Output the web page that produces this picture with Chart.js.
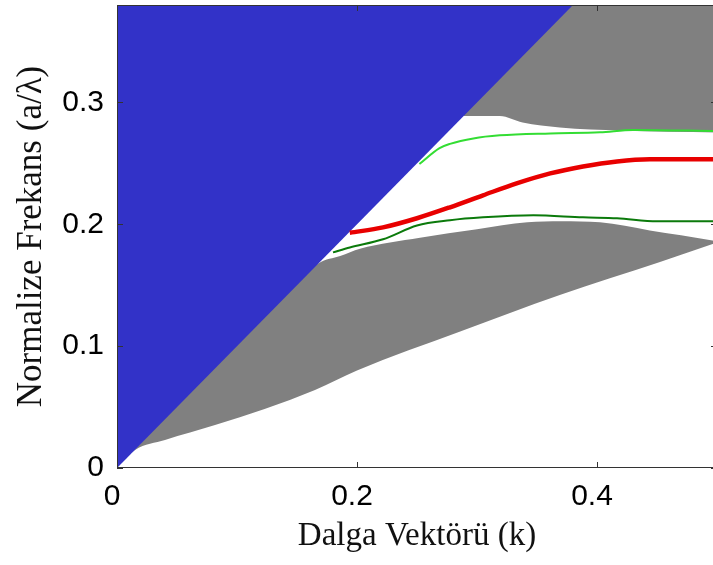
<!DOCTYPE html>
<html>
<head>
<meta charset="utf-8">
<script src="https://cdn.jsdelivr.net/npm/chart.js@4.4.1/dist/chart.umd.min.js"></script>
<style>
  html, body { margin: 0; padding: 0; background: #ffffff; overflow: hidden; }
  #wrap { width: 720px; height: 565px; }
</style>
</head>
<body>
<div id="wrap"><canvas id="c" width="720" height="565"></canvas></div>
<script>
// ---- data ----
const xTickValues = [0, 0.2, 0.4];
const yTickValues = [0, 0.1, 0.2, 0.3];

const lightLineK = [0, 0.38];
const lightLineF = [0, 0.38];

const upperBandK = [0.289, 0.319, 0.338, 0.369, 0.42, 0.5];
const upperBandF = [0.289, 0.289, 0.2836, 0.2795, 0.277, 0.2754];

const lowerBandTopK = [0, 0.168, 0.186, 0.2025, 0.2525, 0.30, 0.342, 0.37, 0.4025, 0.444, 0.47, 0.5];
const lowerBandTopF = [0, 0.168, 0.174, 0.180, 0.189, 0.196, 0.2016, 0.2025, 0.2016, 0.195, 0.191, 0.186];

const lowerBandBottomK = [0, 0.015, 0.04, 0.0817, 0.123, 0.165, 0.2, 0.286, 0.369, 0.4525, 0.5];
const lowerBandBottomF = [0, 0.0148, 0.023, 0.0352, 0.0485, 0.064, 0.080, 0.112, 0.142, 0.169, 0.185];

const lightGreenK = [0.252, 0.2688, 0.2775, 0.297, 0.319, 0.361, 0.4025, 0.43, 0.5];
const lightGreenF = [0.2495, 0.2625, 0.266, 0.2705, 0.273, 0.2746, 0.2755, 0.2775, 0.2765];

const redK = [0.194, 0.2217, 0.25, 0.2775, 0.305, 0.333, 0.361, 0.3883, 0.4167, 0.444, 0.5];
const redF = [0.193, 0.1975, 0.205, 0.214, 0.2238, 0.2336, 0.2418, 0.2475, 0.2516, 0.2533, 0.2533];

const darkGreenK = [0.18, 0.194, 0.2217, 0.25, 0.2775, 0.305, 0.347, 0.3883, 0.4167, 0.45, 0.5];
const darkGreenF = [0.177, 0.181, 0.1877, 0.199, 0.2033, 0.2057, 0.2074, 0.2057, 0.205, 0.2025, 0.2025];

const pts = (ks, fs) => ks.map((k, i) => ({ x: k, y: fs[i] }));

const BLUE = '#3232c8';
const GRAY = '#808080';

const frameTicks = {
  id: 'frameTicks',
  afterDraw(chart) {
    const { ctx, chartArea: a, scales: { x, y } } = chart;
    ctx.save();
    ctx.strokeStyle = '#333333';
    ctx.lineWidth = 1;
    ctx.strokeRect(a.left + 0.5, a.top + 0.5, a.right - a.left - 1, a.bottom - a.top - 1);
    const L = 6;
    ctx.beginPath();
    xTickValues.forEach(v => {
      const px = Math.round(x.getPixelForValue(v)) + 0.5;
      ctx.moveTo(px, a.bottom); ctx.lineTo(px, a.bottom - L);
      ctx.moveTo(px, a.top); ctx.lineTo(px, a.top + L);
    });
    yTickValues.forEach(v => {
      const py = Math.round(y.getPixelForValue(v)) + 0.5;
      ctx.moveTo(a.left, py); ctx.lineTo(a.left + L, py);
      ctx.moveTo(a.right, py); ctx.lineTo(a.right - L, py);
    });
    ctx.stroke();
    ctx.restore();
  }
};

const smooth = { cubicInterpolationMode: 'monotone', pointRadius: 0 };

new Chart(document.getElementById('c'), {
  type: 'line',
  data: {
    datasets: [
      { label: 'red', data: pts(redK, redF), borderColor: '#e80000', borderWidth: 4.5,
        fill: false, order: 0, ...smooth },
      { label: 'darkgreen', data: pts(darkGreenK, darkGreenF), borderColor: '#0b7a0b', borderWidth: 2,
        fill: false, order: 1, ...smooth },
      { label: 'lightgreen', data: pts(lightGreenK, lightGreenF), borderColor: '#33dd33', borderWidth: 2,
        fill: false, order: 2, ...smooth },
      { label: 'lightcone', data: pts(lightLineK, lightLineF), borderColor: BLUE, borderWidth: 0,
        backgroundColor: BLUE, pointRadius: 0, fill: 'end', tension: 0, order: 3 },
      { label: 'upperband', data: pts(upperBandK, upperBandF), borderColor: GRAY, borderWidth: 0,
        backgroundColor: GRAY, fill: 'end', order: 4, ...smooth },
      { label: 'lowerTop', data: pts(lowerBandTopK, lowerBandTopF), borderColor: GRAY, borderWidth: 0,
        backgroundColor: GRAY, fill: '+1', order: 5, ...smooth },
      { label: 'lowerBottom', data: pts(lowerBandBottomK, lowerBandBottomF), borderColor: GRAY, borderWidth: 0,
        backgroundColor: GRAY, fill: false, order: 6, ...smooth }
    ]
  },
  options: {
    responsive: false,
    animation: false,
    devicePixelRatio: 1,
    layout: { padding: { top: 5, right: 3, left: 0, bottom: 0 } },
    plugins: { legend: { display: false }, tooltip: { enabled: false } },
    scales: {
      x: {
        type: 'linear', min: 0, max: 0.5,
        grid: { display: false, drawTicks: false },
        border: { display: false },
        afterBuildTicks: s => { s.ticks = xTickValues.map(v => ({ value: v })); },
        afterFit: s => { s.height = 97; s.paddingLeft = 0; s.paddingRight = 0; },
        ticks: {
          padding: 11, color: '#000', labelOffset: -5,
          font: { family: '"Liberation Sans", Arial, sans-serif', size: 30 },
          callback: v => String(+Number(v).toFixed(2))
        },
        title: {
          display: true, text: 'Dalga Vektörü (k)', color: '#111',
          font: { family: '"Liberation Serif", "Times New Roman", serif', size: 33, lineHeight: 1 },
          padding: { top: 0, bottom: 12 }
        }
      },
      y: {
        type: 'linear', min: 0, max: 0.38,
        grid: { display: false, drawTicks: false },
        border: { display: false },
        afterBuildTicks: s => { s.ticks = yTickValues.map(v => ({ value: v })); },
        afterFit: s => { s.width = 117; s.paddingTop = 0; s.paddingBottom = 0; },
        ticks: {
          padding: 13, color: '#000',
          font: { family: '"Liberation Sans", Arial, sans-serif', size: 30 },
          callback: v => String(+Number(v).toFixed(2))
        },
        title: {
          display: true, text: 'Normalize Frekans (a/λ)', color: '#111',
          font: { family: '"Liberation Serif", "Times New Roman", serif', size: 35, lineHeight: 1 },
          padding: { top: 14, bottom: 0 }
        }
      }
    }
  },
  plugins: [frameTicks]
});
</script>
</body>
</html>
